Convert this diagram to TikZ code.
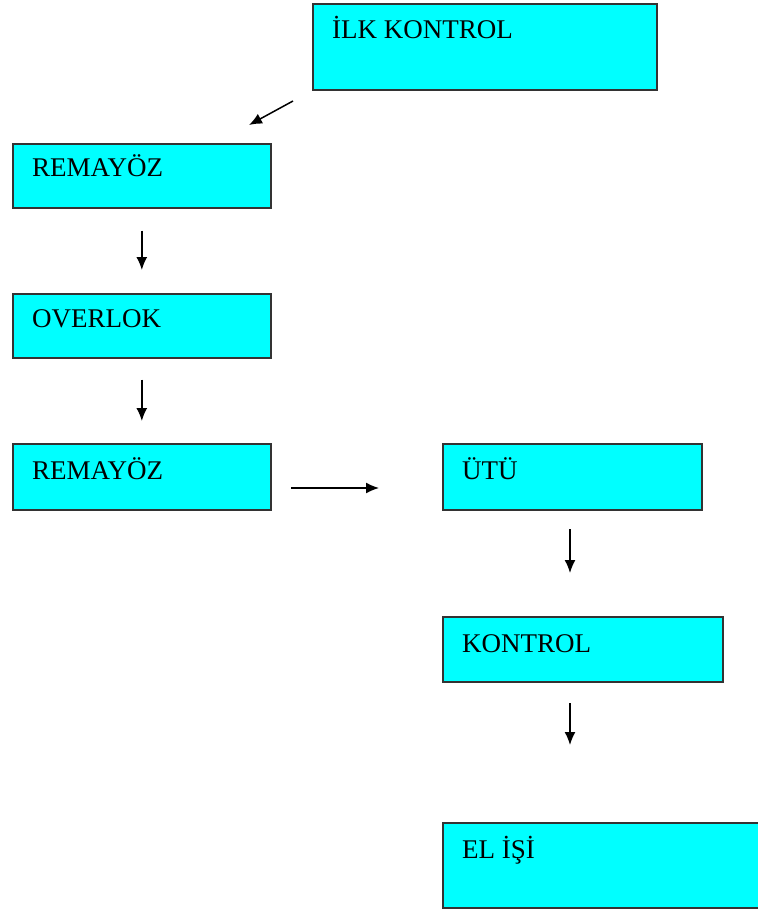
\documentclass[tikz,border=0pt]{standalone}
\usepackage{fontspec}
\setmainfont{Liberation Serif}
\usetikzlibrary{arrows.meta}
\definecolor{camgobegi}{RGB}{0,255,255}

\begin{document}
\begin{tikzpicture}[x=1pt, y=-1pt,
    kutu/.style={draw=black!80, line width=1.6pt, fill=camgobegi, rectangle, inner sep=0pt, anchor=north west},
    yazi/.style={anchor=base west, inner sep=0pt, xshift=20pt, yshift=-36pt, text=black, font=\fontsize{27}{30}\selectfont},
    ok/.style={-{Latex[length=13pt, width=11pt]}, line width=1.5pt},
    ]
  \useasboundingbox (0,0) rectangle (757,912);

  % kutular
  \node[kutu, minimum width=344pt, minimum height=86pt, label={[yazi]north west:İLK KONTROL}] (ilk) at (312,3) {};
  \node[kutu, minimum width=258pt, minimum height=64pt, label={[yazi, yshift=2pt]north west:REMAYÖZ}] (rem1) at (12,143) {};
  \node[kutu, minimum width=258pt, minimum height=64pt, label={[yazi, yshift=2pt]north west:OVERLOK}] (over) at (12,293) {};
  \node[kutu, minimum width=258pt, minimum height=66pt, label={[yazi]north west:REMAYÖZ}] (rem2) at (12,443) {};
  \node[kutu, minimum width=259pt, minimum height=66pt, label={[yazi]north west:ÜTÜ}] (utu) at (442,443) {};
  \node[kutu, minimum width=280pt, minimum height=65pt, label={[yazi]north west:KONTROL}] (kont) at (442,616) {};
  \node[kutu, minimum width=320pt, minimum height=85pt, label={[yazi]north west:EL İŞİ}] (elisi) at (442,822) {};

  % ok uclari
  \coordinate (d1) at (293,101);
  \coordinate (d2) at (249,125);
  \coordinate (y1) at (291,488);
  \coordinate (y2) at (379,488);
  \coordinate (u1) at (570,529);
  \coordinate (u2) at (570,573);
  \coordinate (k1) at (570,703);
  \coordinate (k2) at (570,745);

  % oklar
  \draw[ok] (d1) -- (d2);
  \draw[ok, shorten <=22pt, shorten >=23pt] (rem1.south) -- (over.north);
  \draw[ok, shorten <=21pt, shorten >=22pt] (over.south) -- (rem2.north);
  \draw[ok] (y1) -- (y2);
  \draw[ok] (u1) -- (u2);
  \draw[ok] (k1) -- (k2);

\end{tikzpicture}
\end{document}
